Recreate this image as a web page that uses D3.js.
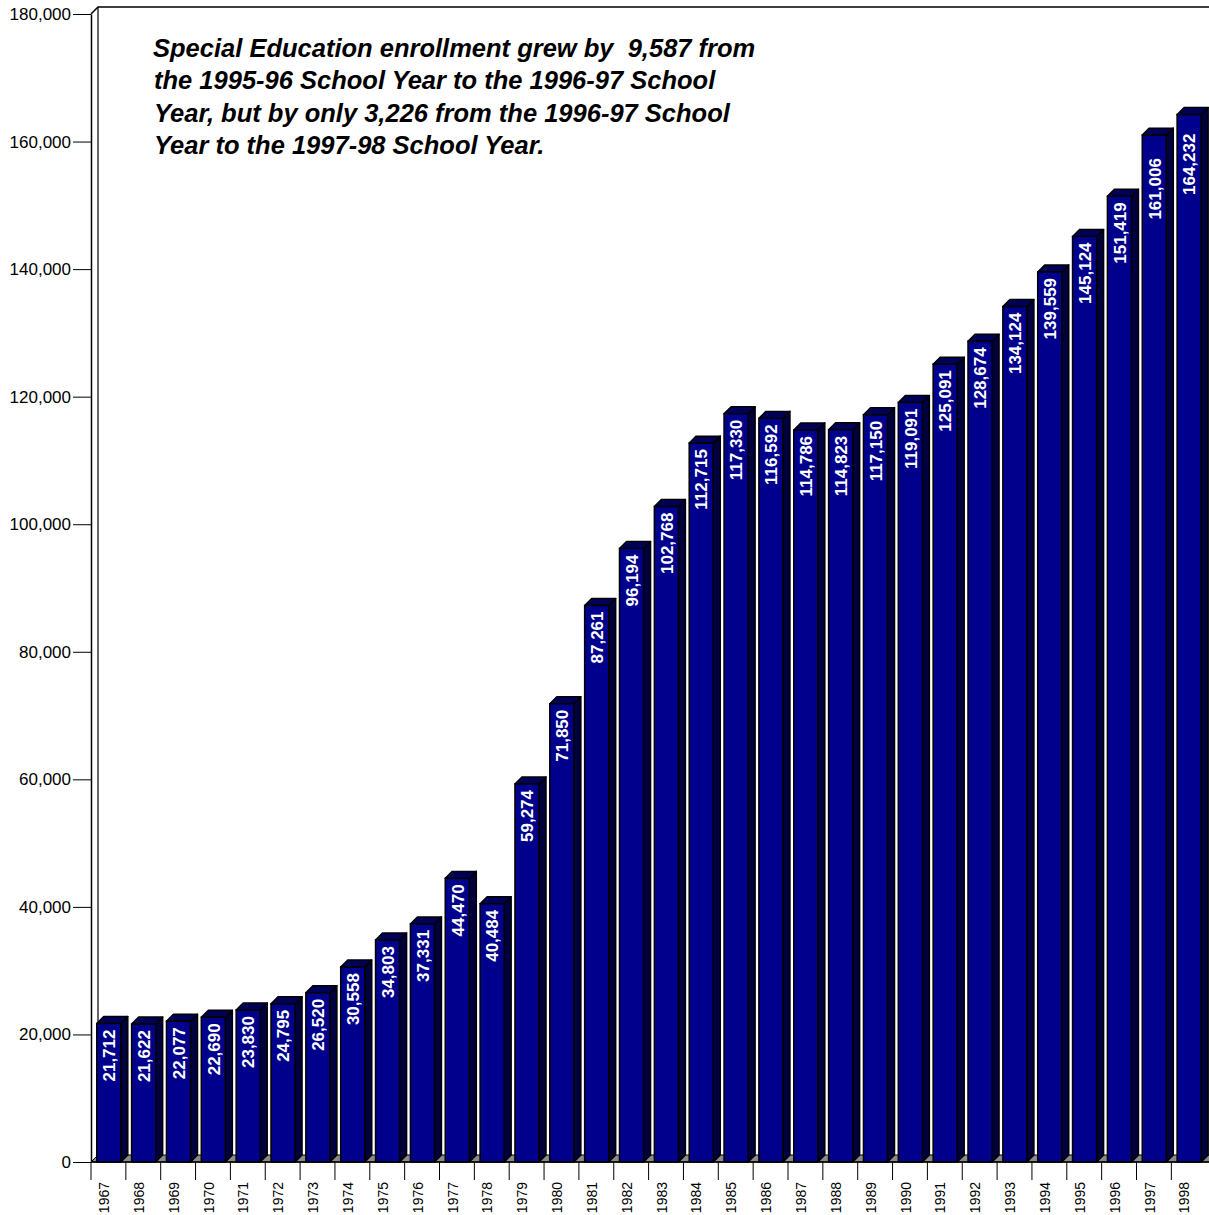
<!DOCTYPE html>
<html>
<head>
<meta charset="utf-8">
<script src="https://cdn.jsdelivr.net/npm/d3@7"></script>
<style>
  html, body { margin: 0; padding: 0; background: #fff; }
  svg { display: block; }
  text { font-family: Arial, "Liberation Sans", Helvetica, sans-serif; }
</style>
</head>
<body>
<svg id="chart" width="1209" height="1215"></svg>
<script>
// ---- data ----
const years = [1967,1968,1969,1970,1971,1972,1973,1974,1975,1976,1977,1978,1979,1980,1981,1982,1983,1984,1985,1986,1987,1988,1989,1990,1991,1992,1993,1994,1995,1996,1997,1998];
const enrollment = [21712,21622,22077,22690,23830,24795,26520,30558,34803,37331,44470,40484,59274,71850,87261,96194,102768,112715,117330,116592,114786,114823,117150,119091,125091,128674,134124,139559,145124,151419,161006,164232];
const yTicks = [0,20000,40000,60000,80000,100000,120000,140000,160000,180000];
const titleLines = [
  "Special Education enrollment grew by  9,587 from",
  "the 1995-96 School Year to the 1996-97 School",
  "Year, but by only 3,226 from the 1996-97 School",
  "Year to the 1997-98 School Year."
];

(function () {
const svg = d3.select("#chart");
const pLeft = 91, pBottom = 1162, pTop = 14, depth = 7;
const bandW = 34.85;
const x = d3.scaleBand().domain(years).range([pLeft, pLeft + bandW * years.length]).padding(0);
const y = d3.scaleLinear().domain([0, 180000]).range([pBottom, pTop]);
const bw = x.bandwidth();
const frontOff = bw * 0.165, frontW = bw * 0.69;
const labelShift = {1997: 17, 1998: 13};

// back wall frame
svg.append("path")
  .attr("d", `M${pLeft},${pTop} L${pLeft+depth},${pTop-depth} L1212,${pTop-depth}`)
  .attr("fill", "none").attr("stroke", "#000").attr("stroke-width", 1.5);
svg.append("line")
  .attr("x1", pLeft+depth).attr("x2", pLeft+depth)
  .attr("y1", pTop-depth).attr("y2", pBottom-depth)
  .attr("stroke", "#000").attr("stroke-width", 1.2);

// floor
svg.append("path")
  .attr("d", `M${pLeft},${pBottom} L1215,${pBottom} L1222,${pBottom-depth} L${pLeft+depth},${pBottom-depth} Z`)
  .attr("fill", "#8a8a8a").attr("stroke", "#000").attr("stroke-width", 1);

// bars
const g = svg.append("g");
years.forEach((yr, i) => {
  const v = enrollment[i];
  const x0 = x(yr) + frontOff, x1 = x0 + frontW, yt = y(v);
  g.append("path")
    .attr("d", `M${x1},${yt} L${x1+depth},${yt-depth} L${x1+depth},${pBottom-depth} L${x1},${pBottom} Z`)
    .attr("fill", "#00003e").attr("stroke", "#000").attr("stroke-width", 1.5).attr("stroke-linejoin", "round");
  g.append("path")
    .attr("d", `M${x0},${yt} L${x0+depth},${yt-depth} L${x1+depth},${yt-depth} L${x1},${yt} Z`)
    .attr("fill", "#000058").attr("stroke", "#000").attr("stroke-width", 1.5).attr("stroke-linejoin", "round");
  g.append("rect")
    .attr("x", x0).attr("y", yt).attr("width", frontW).attr("height", pBottom - yt)
    .attr("fill", "#00008c").attr("stroke", "#000").attr("stroke-width", 1.5);
  const ly = yt + 6 + (labelShift[yr] || 0);
  g.append("text")
    .attr("transform", `translate(${x(yr) + 24},${ly}) rotate(-90)`)
    .attr("text-anchor", "end")
    .attr("fill", "#fff").attr("font-weight", "bold").attr("font-size", "17px")
    .text(d3.format(",")(v));
});

// x axis line and ticks
svg.append("line").attr("x1", pLeft).attr("x2", 1212).attr("y1", pBottom).attr("y2", pBottom)
  .attr("stroke", "#000").attr("stroke-width", 1.5);
years.forEach(yr => {
  svg.append("line").attr("x1", x(yr)).attr("x2", x(yr)).attr("y1", pBottom).attr("y2", pBottom + 18)
    .attr("stroke", "#000").attr("stroke-width", 1);
  svg.append("text")
    .attr("transform", `translate(${x(yr) + 18},${pBottom + 20}) rotate(-90)`)
    .attr("text-anchor", "end").attr("font-size", "14px").attr("fill", "#000")
    .text(yr);
});

// y axis
const yAxis = d3.axisLeft(y).tickValues(yTicks).tickFormat(d3.format(",")).tickSize(18).tickSizeOuter(0).tickPadding(2);
const ya = svg.append("g").attr("transform", `translate(${pLeft},0)`).call(yAxis);
ya.select(".domain").attr("stroke", "#000").attr("stroke-width", 1.5);
ya.selectAll(".tick line").attr("stroke", "#000").attr("stroke-width", 1);
ya.selectAll(".tick text").attr("font-size", "17px").attr("fill", "#000")
  .attr("font-family", "Arial, 'Liberation Sans', sans-serif");

// annotation
const t = svg.append("text").attr("x", 153).attr("y", 57)
  .attr("font-size", "25.5px").attr("font-weight", "bold").attr("font-style", "italic").attr("fill", "#000")
  .style("white-space", "pre");
titleLines.forEach((ln, i) => {
  t.append("tspan").attr("x", i === 0 ? 153 : 154).attr("y", 57 + i * 32.3).text(ln);
});
})();
</script>
</body>
</html>
